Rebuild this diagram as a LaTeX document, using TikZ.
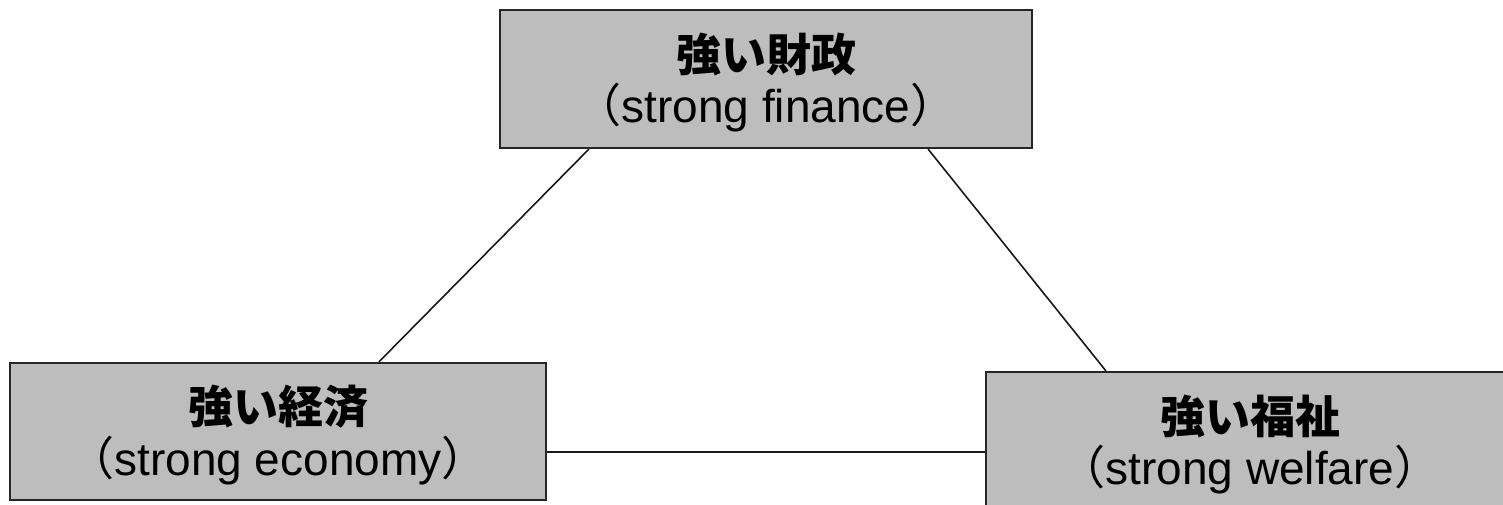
\documentclass[tikz,border=0pt]{standalone}
\usepackage{fontspec}
\setmainfont{Liberation Sans}
\newfontfamily\cjk{Noto Sans CJK JP}
\usetikzlibrary{calc}
\tikzset{
  box/.style={draw=black!85, line width=2.2pt, fill=black!26, inner sep=0pt},
  txt/.style={inner sep=0pt, anchor=center},
  link/.style={draw=black!90, line width=1.6pt},
}
\newcommand{\jline}[1]{{\fontsize{45}{50}\selectfont\cjk\bfseries #1}}
\newcommand{\eline}[1]{{\fontsize{46}{50}\selectfont{\cjk （}#1{\cjk ）}}}
\begin{document}
\begin{tikzpicture}[x=1pt,y=-1pt]
\useasboundingbox (0,0) rectangle (1503,505);
\clip (0,0) rectangle (1503,505);
% boxes
\node[box, minimum width=532pt, minimum height=138pt] (fin) at (766,79) {};
\node[box, minimum width=536pt, minimum height=137pt] (eco) at (278,431.5) {};
\node[box, minimum width=528pt, minimum height=160pt] (wel) at (1250,452) {};
% texts
\node[txt] (finj) at (766,54) {\jline{強い財政}};
\node[txt] (fine) at (766,108) {\eline{strong finance}};
\node[txt] (ecoj) at (278,407) {\jline{強い経済}};
\node[txt] (ecoe) at (278,461) {\eline{strong economy}};
\node[txt] (welj) at (1250,416) {\jline{強い福祉}};
\node[txt] (wele) at (1250,470) {\eline{strong welfare}};
% connectors
\coordinate (a1) at ($(fin.south west)+(90,0)$);
\coordinate (a2) at ($(eco.north west)+(370,0)$);
\coordinate (b1) at ($(fin.south east)+(-105,0)$);
\coordinate (b2) at ($(wel.north west)+(121,0)$);
\draw[link] (a1) -- (a2);
\draw[link] (b1) -- (b2);
\draw[link] (eco.east |- 0,452) -- (wel.west |- 0,452);
\end{tikzpicture}
\end{document}
